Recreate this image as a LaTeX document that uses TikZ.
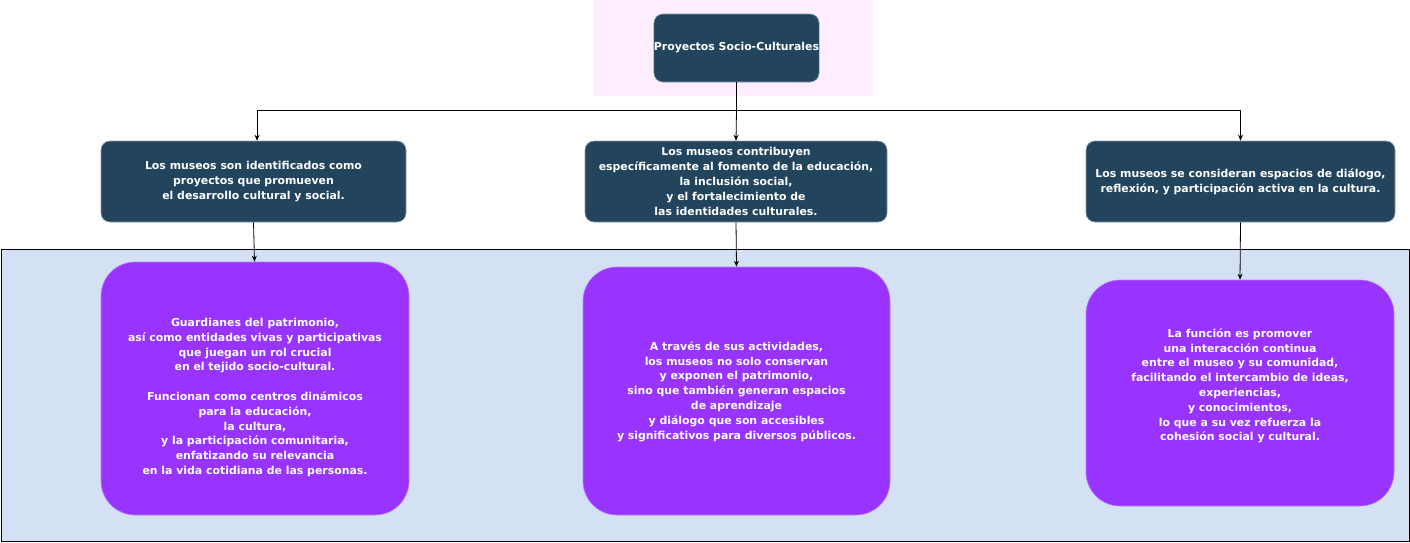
\documentclass[tikz,border=0pt]{standalone}
\usepackage{fontspec}
\setmainfont{DejaVu Sans}
\usetikzlibrary{arrows.meta}
\definecolor{darkbox}{HTML}{23445D}
\definecolor{darkedge}{HTML}{8A9BAA}
\definecolor{purplebox}{HTML}{9933FF}
\definecolor{purpleedge}{HTML}{B580FF}
\definecolor{bluebg}{HTML}{D4E1F5}
\definecolor{pinkbg}{HTML}{FFEEFF}
\tikzset{
  x=1pt, y=-1pt,
  txt/.style={font=\fontsize{10.9}{14.8}\selectfont\bfseries, text=white, align=center, inner sep=0pt},
  darknode/.style={txt, fill=darkbox, draw=darkedge, line width=0.6pt, rounded corners=9pt},
  purplenode/.style={fill=purplebox, draw=purpleedge, line width=0.6pt, rounded corners=34pt, inner sep=0pt},
  conn/.style={line width=0.8pt, draw=black},
  arr/.style={conn, -{Stealth[length=6pt,width=5pt]}}
}
\begin{document}
\begin{tikzpicture}
\useasboundingbox (0,0) rectangle (1410,542);
% backgrounds
\fill[pinkbg] (594,0) rectangle (873,96);
\filldraw[fill=bluebg, draw=black, line width=0.6pt] (1,249) rectangle (1409,541);
% top node
\node[darknode, minimum width=165pt, minimum height=68pt] (top) at (736.5,48) {Proyectos Socio-Culturales};
% middle nodes
\node[darknode, minimum width=305pt, minimum height=81pt] (m1) at (253.5,181.5)
  {Los museos son identificados como\\proyectos que promueven\\el desarrollo cultural y social.};
\node[darknode, minimum width=302pt, minimum height=81pt] (m2) at (736,181.5)
  {Los museos contribuyen\\específicamente al fomento de la educación,\\la inclusión social,\\y el fortalecimiento de\\las identidades culturales.};
\node[darknode, minimum width=309pt, minimum height=81pt] (m3) at (1240.5,181.5)
  {Los museos se consideran espacios de diálogo,\\reflexión, y participación activa en la cultura.};
% purple nodes
\node[purplenode, minimum width=308pt, minimum height=253pt] (p1) at (255,388.5) {};
\node[purplenode, minimum width=307pt, minimum height=248pt] (p2) at (736.5,391) {};
\node[purplenode, minimum width=308pt, minimum height=226pt] (p3) at (1240,393) {};
\node[txt] (p1t) at (255,397.5)
  {Guardianes del patrimonio,\\así como entidades vivas y participativas\\que juegan un rol crucial\\en el tejido socio-cultural.\\[14.8pt]Funcionan como centros dinámicos\\para la educación,\\la cultura,\\y la participación comunitaria,\\enfatizando su relevancia\\en la vida cotidiana de las personas.};
\node[txt] (p2t) at (736.5,391.5)
  {A través de sus actividades,\\los museos no solo conservan\\y exponen el patrimonio,\\sino que también generan espacios\\de aprendizaje\\y diálogo que son accesibles\\y significativos para diversos públicos.};
\node[txt] (p3t) at (1240,386)
  {La función es promover\\una interacción continua\\entre el museo y su comunidad,\\facilitando el intercambio de ideas,\\experiencias,\\y conocimientos,\\lo que a su vez refuerza la\\cohesión social y cultural.};
% connectors
\coordinate (bus) at (736.5,110);
\draw[conn] (top.south) -- (bus);
\draw[arr] (bus) -| ([xshift=3.5pt]m1.north);
\draw[arr] (bus) -- (m2.north);
\draw[arr] (bus) -| (m3.north);
\draw[arr] (m1.south) -- ([xshift=-0.5pt]p1.north);
\draw[arr] (m2.south) -- (p2.north);
\draw[arr] (m3.south) -- (p3.north);
\end{tikzpicture}
\end{document}
